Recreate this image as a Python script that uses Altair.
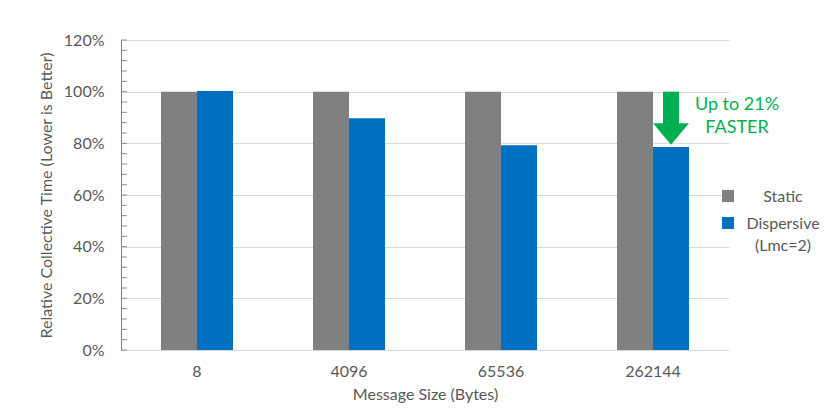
import altair as alt
import pandas as pd

sizes = ["8", "4096", "65536", "262144"]
series = ["Static", "Dispersive"]
static = [1.00, 1.00, 1.00, 1.00]
dispersive = [1.003, 0.897, 0.793, 0.786]
colors = ["#808080", "#0070C0"]
y_ticks = [0, 0.2, 0.4, 0.6, 0.8, 1.0, 1.2]
minor_ticks = [round(i * 0.04, 2) for i in range(31)]
green = "#00B050"
txt = "#595959"
FONT = "Lato"

rows = []
for i, s in enumerate(sizes):
    rows.append(dict(size=s, series="Static", value=static[i]))
    rows.append(dict(size=s, series="Dispersive", value=dispersive[i]))
df = pd.DataFrame(rows)

yscale = alt.Scale(domain=[0, 1.2], nice=False)
xscale = alt.Scale(domain=sizes, paddingInner=0.5263, paddingOuter=0.263)
xo = alt.XOffset("series:N", scale=alt.Scale(domain=series, paddingInner=0, paddingOuter=0))

bars = alt.Chart(df).mark_bar().encode(
    x=alt.X("size:N", sort=sizes, scale=xscale,
            axis=alt.Axis(title="Message Size (Bytes)", labelAngle=0, ticks=False, domain=False,
                          labelPadding=13, titlePadding=7, grid=False)),
    xOffset=xo,
    y=alt.Y("value:Q", scale=yscale,
            axis=alt.Axis(values=y_ticks, format=".0%", title="Relative Collective Time (Lower is Better)",
                          ticks=False, domain=True, domainColor="#7f7f7f", grid=True,
                          gridColor="#d9d9d9", labelPadding=17, titlePadding=9)),
    color=alt.Color("series:N", scale=alt.Scale(domain=series, range=colors), legend=None),
)

mt = pd.DataFrame({"v": minor_ticks})
minor = alt.Chart(mt).mark_rule(color="#8c8c8c", strokeWidth=1).encode(
    x=alt.value(0), x2=alt.value(6), y=alt.Y("v:Q", scale=yscale)
)

arrow_df = pd.DataFrame([{"size": "262144", "series": "Dispersive", "top": 1.0, "bottom": 0.86, "head": 0.836}])
shaft = alt.Chart(arrow_df).mark_bar(width=16, color=green).encode(
    x=alt.X("size:N", scale=xscale), xOffset=xo,
    y=alt.Y("top:Q", scale=yscale), y2="bottom:Q"
)
head = alt.Chart(arrow_df).mark_point(
    shape="M-1,-0.6L1,-0.6L0,0.6Z", size=1296, filled=True, color=green, opacity=1
).encode(x=alt.X("size:N", scale=xscale), xOffset=xo, y=alt.Y("head:Q", scale=yscale))

ann_df = pd.DataFrame({"t": ["Up to 21%", "FASTER"], "py": [65, 88]})
ann = alt.Chart(ann_df).mark_text(color=green, fontSize=18, font=FONT, align="center").encode(
    x=alt.value(616), y=alt.Y("py:Q", scale=None), text="t:N"
)

leg_sq = pd.DataFrame({"series": series, "py": [156, 183]})
legend_sq = alt.Chart(leg_sq).mark_square(size=144, opacity=1, filled=True).encode(
    x=alt.value(607), y=alt.Y("py:Q", scale=None),
    color=alt.Color("series:N", scale=alt.Scale(domain=series, range=colors), legend=None)
)
leg_tx = pd.DataFrame({"t": ["Static", "Dispersive", "(Lmc=2)"], "py": [157, 184, 206]})
legend_tx = alt.Chart(leg_tx).mark_text(color=txt, fontSize=16, font=FONT, align="center").encode(
    x=alt.value(662), y=alt.Y("py:Q", scale=None), text="t:N"
)

chart = alt.layer(bars, minor, shaft, head, ann, legend_sq, legend_tx).properties(
    width=608, height=310,
    autosize=alt.AutoSizeParams(type="none"),
    padding={"left": 121, "top": 40, "right": 101, "bottom": 68},
    background="white",
).configure_view(stroke=None).configure_axis(
    labelFont=FONT, titleFont=FONT, labelColor=txt, titleColor=txt,
    labelFontSize=16, titleFontSize=16, titleFontWeight="normal"
)

chart.save("out.html", embed_options={"renderer": "svg", "actions": False})
